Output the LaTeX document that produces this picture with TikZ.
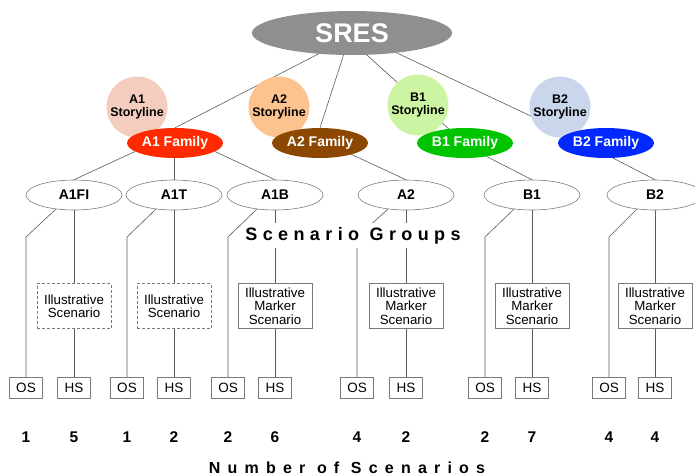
\documentclass[tikz,border=0pt]{standalone}
\usepackage{fontspec}
\setmainfont{Liberation Sans}
\newfontfamily\trackedA[LetterSpace=30]{Liberation Sans}
\newfontfamily\trackedB[LetterSpace=45]{Liberation Sans}
\usetikzlibrary{shapes.geometric}
\pgfdeclarelayer{background}
\pgfsetlayers{background,main}

\definecolor{sresgray}{HTML}{8F8F8F}
\definecolor{storyAone}{HTML}{F5CDBF}
\definecolor{storyAtwo}{HTML}{FDC38E}
\definecolor{storyBone}{HTML}{CCF5A3}
\definecolor{storyBtwo}{HTML}{C9D6EC}
\definecolor{famAone}{HTML}{FF2A00}
\definecolor{famAtwo}{HTML}{8C4800}
\definecolor{famBone}{HTML}{00C400}
\definecolor{famBtwo}{HTML}{0028FF}
\definecolor{linkgray}{HTML}{5A5A5A}
\definecolor{boxgray}{HTML}{7A7A7A}

\begin{document}
\begin{tikzpicture}[x=1pt,y=-1pt,
  link/.style={draw=linkgray, line width=0.6pt},
  root/.style={ellipse, fill=sresgray, minimum width=200pt, minimum height=44pt,
    inner sep=0pt, text=white, font=\bfseries\fontsize{27}{30}\selectfont},
  storyline/.style={circle, minimum size=61pt, inner sep=0pt, align=center,
    font=\bfseries\fontsize{12.5}{13}\selectfont},
  family/.style={ellipse, minimum width=96pt, minimum height=30pt, inner sep=0pt,
    text=white, font=\bfseries\fontsize{14}{16}\selectfont},
  group/.style={ellipse, draw=boxgray, fill=white, line width=0.6pt,
    minimum width=96pt, minimum height=30pt, inner sep=0pt,
    font=\bfseries\fontsize{14}{16}\selectfont},
  illus/.style={rectangle, draw=boxgray, fill=white, line width=0.6pt,
    minimum width=74pt, minimum height=45pt, inner sep=0pt, align=center,
    font=\fontsize{13.3}{13.4}\selectfont},
  illusdash/.style={illus, dash pattern=on 3pt off 2pt},
  runbox/.style={rectangle, draw=boxgray, fill=white, line width=0.6pt,
    minimum width=33pt, minimum height=21pt, inner sep=0pt,
    font=\fontsize{13.5}{15}\selectfont},
  count/.style={anchor=base, inner sep=0pt, font=\bfseries\fontsize{15.5}{17}\selectfont},
]
\useasboundingbox (0,0) rectangle (695,475);
\clip (0,0) rectangle (695,475);

% top of the tree
\node[root] (sres) at (352,33) {SRES};

\node[storyline, fill=storyAone] (a1s) at (137,107) {A1\\Storyline};
\node[storyline, fill=storyAtwo] (a2s) at (279,107) {A2\\Storyline};
\node[storyline, fill=storyBone] (b1s) at (418,105) {B1\\Storyline};
\node[storyline, fill=storyBtwo] (b2s) at (560,107) {B2\\Storyline};

\node[family, fill=famAone] (a1f) at (175,143) {A1 Family};
\node[family, fill=famAtwo] (a2f) at (320,143) {A2 Family};
\node[family, fill=famBone] (b1f) at (465,143) {B1 Family};
\node[family, fill=famBtwo] (b2f) at (606,143) {B2 Family};

% scenario groups
\node[group] (a1fi) at (74,195) {A1FI};
\node[group] (a1t) at (174,195) {A1T};
\node[group] (a1b) at (275,195) {A1B};
\node[group] (a2g) at (406,195) {A2};
\node[group] (b1g) at (532,195) {B1};
\node[group] (b2g) at (655,195) {B2};

% illustrative scenarios
\node[illusdash] (ia1fi) at (74,306) {Illustrative\\Scenario};
\node[illusdash] (ia1t) at (174,306) {Illustrative\\Scenario};
\node[illus] (ia1b) at (275,306) {Illustrative\\Marker\\Scenario};
\node[illus] (ia2) at (406,306) {Illustrative\\Marker\\Scenario};
\node[illus] (ib1) at (532,306) {Illustrative\\Marker\\Scenario};
\node[illus] (ib2) at (655,306) {Illustrative\\Marker\\Scenario};

% OS / HS leaves
\node[runbox] (os1) at (26,388) {OS};
\node[runbox] (hs1) at (74,388) {HS};
\node[runbox] (os2) at (127,388) {OS};
\node[runbox] (hs2) at (174,388) {HS};
\node[runbox] (os3) at (228,388) {OS};
\node[runbox] (hs3) at (275,388) {HS};
\node[runbox] (os4) at (357,388) {OS};
\node[runbox] (hs4) at (406,388) {HS};
\node[runbox] (os5) at (485,388) {OS};
\node[runbox] (hs5) at (532,388) {HS};
\node[runbox] (os6) at (609,388) {OS};
\node[runbox] (hs6) at (655,388) {HS};

\coordinate (bend) at (0,237);

% connectors
\begin{pgfonlayer}{background}
  \draw[link] (sres.212) -- (a1f.north);
  \draw[link] (sres.249) -- (a2f.north);
  \draw[link] (sres.-56) -- (b1f.139);
  \draw[link] (sres.-24) -- (b2f.166);

  \draw[link] (a1f.192) -- (a1fi.north);
  \draw[link] (a1t.north |- a1f.south) -- (a1t.north);
  \draw[link] (a1f.-12) -- (a1b.north);
  \draw[link] (a2f.-20) -- (a2g.north);
  \draw[link] (b1f.-32) -- (b1g.north);
  \draw[link] (b2f.-65) -- (b2g.north);

  \foreach \g/\o/\b/\h in {a1fi/os1/ia1fi/hs1, a1t/os2/ia1t/hs2, a1b/os3/ia1b/hs3,
                           a2g/os4/ia2/hs4, b1g/os5/ib1/hs5, b2g/os6/ib2/hs6}{
    \draw[link] (\g.218) -- (\o.north |- bend) -- (\o.north);
    \draw[link] (\g.south) -- (\b.north);
    \draw[link] (\b.south) -- (\h.north);
  }
\end{pgfonlayer}

% headings
\node[fill=white, anchor=base, inner xsep=2pt, inner ysep=4pt,
      font=\trackedA\bfseries\fontsize{18}{20}\selectfont] (groups) at (353,240) {Scenario Groups};

\foreach \n/\x in {1/26, 5/74, 1/127, 2/174, 2/228, 6/275, 4/357, 2/406, 2/485, 7/532, 4/609, 4/655}{
  \node[count] at (\x,442) {\n};
}

\node[anchor=base, inner sep=0pt, font=\trackedB\bfseries\fontsize{16}{18}\selectfont]
  (numbers) at (347,473) {Number of Scenarios};
\end{tikzpicture}
\end{document}
